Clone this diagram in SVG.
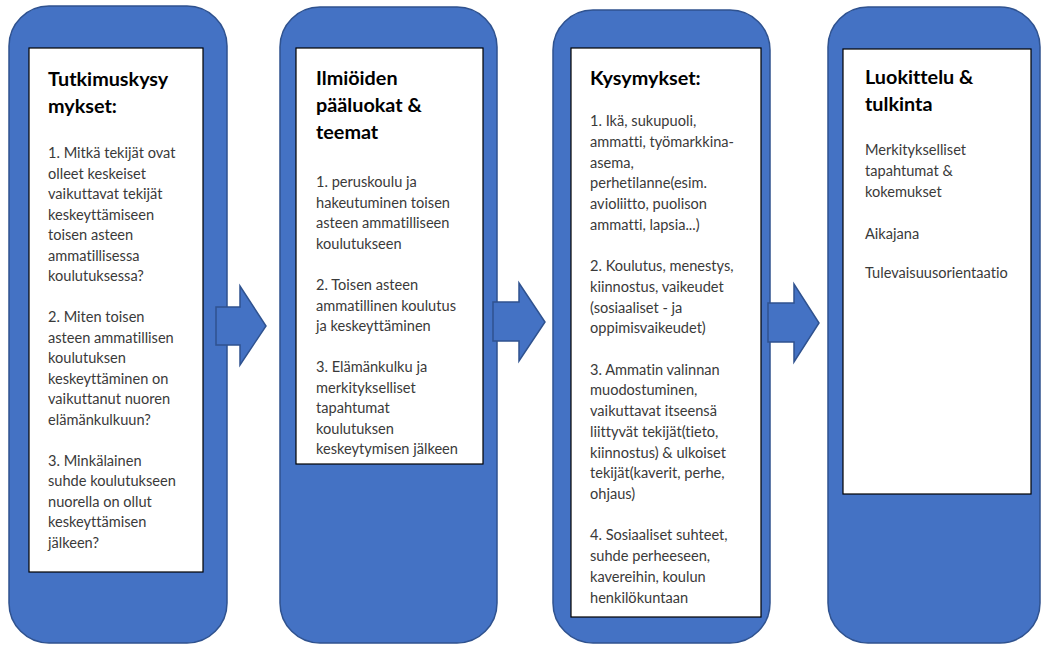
<svg xmlns="http://www.w3.org/2000/svg" width="1041" height="645" viewBox="0 0 1041 645">
<style>
.col{fill:#4472C4;stroke:#2F528F;stroke-width:1.5}
.box{fill:#ffffff;stroke:#000000;stroke-width:1.2}
.arrow{fill:#4472C4;stroke:#2F528F;stroke-width:1.5;stroke-linejoin:miter}
text{font-variant-ligatures:none;font-feature-settings:"liga" 0,"clig" 0}
.title{font-family:Lato,"Liberation Sans",sans-serif;font-weight:bold;font-size:19.8px;fill:#000000}
.body{font-family:Lato,"Liberation Sans",sans-serif;font-size:14.6px;fill:#3a3a3a}
</style>
<rect width="1041" height="645" fill="#ffffff"/>
<g id="node-tutkimuskysymykset">
<rect class="col" x="9" y="6" width="218" height="637" rx="40" ry="40"/>
<rect class="box" x="29" y="48" width="174" height="524"/>
<text class="title" x="48"><tspan x="48" y="86">Tutkimuskysy</tspan><tspan x="48" y="113">mykset:</tspan></text>
<text class="body" x="48">
<tspan x="48" y="158">1. Mitkä tekijät ovat</tspan>
<tspan x="48" y="178.5">olleet keskeiset</tspan>
<tspan x="48" y="199">vaikuttavat tekijät</tspan>
<tspan x="48" y="219.5">keskeyttämiseen</tspan>
<tspan x="48" y="240">toisen asteen</tspan>
<tspan x="48" y="260.5">ammatillisessa</tspan>
<tspan x="48" y="281">koulutuksessa?</tspan>
<tspan x="48" y="322">2. Miten toisen</tspan>
<tspan x="48" y="342.5">asteen ammatillisen</tspan>
<tspan x="48" y="363">koulutuksen</tspan>
<tspan x="48" y="383.5">keskeyttäminen on</tspan>
<tspan x="48" y="404">vaikuttanut nuoren</tspan>
<tspan x="48" y="424.5">elämänkulkuun?</tspan>
<tspan x="48" y="465.5">3. Minkälainen</tspan>
<tspan x="48" y="486">suhde koulutukseen</tspan>
<tspan x="48" y="506.5">nuorella on ollut</tspan>
<tspan x="48" y="527">keskeyttämisen</tspan>
<tspan x="48" y="547.5">jälkeen?</tspan>
</text>
</g>
<g id="node-ilmioiden-paaluokat">
<rect class="col" x="280" y="7" width="217" height="636" rx="40" ry="40"/>
<rect class="box" x="296" y="48" width="187" height="416"/>
<text class="title"><tspan x="316" y="85">Ilmiöiden</tspan><tspan x="316" y="112">pääluokat &amp;</tspan><tspan x="316" y="139">teemat</tspan></text>
<text class="body">
<tspan x="316" y="187">1. peruskoulu ja</tspan>
<tspan x="316" y="207.5">hakeutuminen toisen</tspan>
<tspan x="316" y="228">asteen ammatilliseen</tspan>
<tspan x="316" y="248.5">koulutukseen</tspan>
<tspan x="316" y="290">2. Toisen asteen</tspan>
<tspan x="316" y="310.5">ammatillinen koulutus</tspan>
<tspan x="316" y="331">ja keskeyttäminen</tspan>
<tspan x="316" y="372">3. Elämänkulku ja</tspan>
<tspan x="316" y="392.5">merkitykselliset</tspan>
<tspan x="316" y="413">tapahtumat</tspan>
<tspan x="316" y="433.5">koulutuksen</tspan>
<tspan x="316" y="454">keskeytymisen jälkeen</tspan>
</text>
</g>
<g id="node-kysymykset">
<rect class="col" x="553" y="10" width="217" height="633" rx="40" ry="40"/>
<rect class="box" x="571" y="48" width="190" height="569"/>
<text class="title"><tspan x="590" y="85">Kysymykset:</tspan></text>
<text class="body">
<tspan x="590" y="126">1. Ikä, sukupuoli,</tspan>
<tspan x="590" y="146.8">ammatti, työmarkkina-</tspan>
<tspan x="590" y="167.5">asema,</tspan>
<tspan x="590" y="188.2">perhetilanne(esim.</tspan>
<tspan x="590" y="209">avioliitto, puolison</tspan>
<tspan x="590" y="229.7">ammatti, lapsia...)</tspan>
<tspan x="590" y="271">2. Koulutus, menestys,</tspan>
<tspan x="590" y="291.8">kiinnostus, vaikeudet</tspan>
<tspan x="590" y="312.5">(sosiaaliset - ja</tspan>
<tspan x="590" y="333.2">oppimisvaikeudet)</tspan>
<tspan x="590" y="374.6">3. Ammatin valinnan</tspan>
<tspan x="590" y="395.4">muodostuminen,</tspan>
<tspan x="590" y="416">vaikuttavat itseensä</tspan>
<tspan x="590" y="436.8">liittyvät tekijät(tieto,</tspan>
<tspan x="590" y="457.5">kiinnostus) &amp; ulkoiset</tspan>
<tspan x="590" y="478.2">tekijät(kaverit, perhe,</tspan>
<tspan x="590" y="499">ohjaus)</tspan>
<tspan x="590" y="540.4">4. Sosiaaliset suhteet,</tspan>
<tspan x="590" y="561.1">suhde perheeseen,</tspan>
<tspan x="590" y="581.8">kavereihin, koulun</tspan>
<tspan x="590" y="602.5">henkilökuntaan</tspan>
</text>
</g>
<g id="node-luokittelu">
<rect class="col" x="828" y="7" width="212" height="636" rx="40" ry="40"/>
<rect class="box" x="843" y="49" width="188" height="445"/>
<text class="title"><tspan x="865" y="84">Luokittelu &amp;</tspan><tspan x="865" y="111">tulkinta</tspan></text>
<text class="body">
<tspan x="865" y="155">Merkitykselliset</tspan>
<tspan x="865" y="176">tapahtumat &amp;</tspan>
<tspan x="865" y="197">kokemukset</tspan>
<tspan x="865" y="238.5">Aikajana</tspan>
<tspan x="865" y="277.5">Tulevaisuusorientaatio</tspan>
</text>
</g>
<g id="connectors">
<polygon class="arrow" points="216,307 240,307 240,286 266,326 240,365 240,345 216,345"/>
<polygon class="arrow" points="493,302 519,302 519,283 545,322 519,361 519,341 493,341"/>
<polygon class="arrow" points="768,303 794,303 794,284 819,323 794,362 794,342 768,342"/>
</g>
</svg>
